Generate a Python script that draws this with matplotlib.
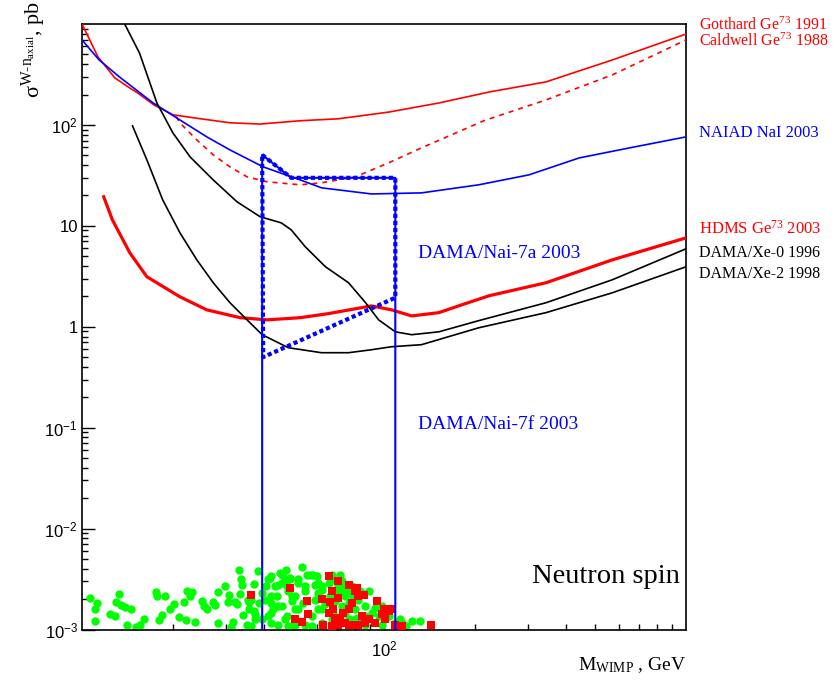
import matplotlib
matplotlib.use("Agg")
import matplotlib.pyplot as plt
from matplotlib.ticker import LogLocator, NullFormatter, FixedLocator

plt.rcParams['font.family'] = ['Liberation Serif', 'DejaVu Serif']
plt.rcParams['mathtext.fontset'] = 'custom'
plt.rcParams['mathtext.rm'] = 'Liberation Serif'
plt.rcParams['mathtext.it'] = 'Liberation Serif:italic'
plt.rcParams['mathtext.sf'] = 'Liberation Sans'

# ---------------- data (mass in GeV, cross-section in pb) ----------------
gotthard_mass = [10, 11.3, 12.85, 14.4, 15.3, 17.3, 20.0, 24.2, 30.9, 38.9, 52.8, 70.7, 103.6, 152, 223, 344, 570, 1000]
gotthard_xsec = [1000, 471, 292, 232, 207, 158, 126, 116, 105, 102, 110, 115, 134, 165, 212, 267, 440, 796]

caldwell_mass = [20.5, 21.1, 24.0, 27.2, 30.9, 35.2, 41.0, 52.8, 62.1, 80.5, 103.6, 133, 173, 214, 344, 570, 1000]
caldwell_xsec = [121, 104.7, 71.0, 50.5, 38.4, 30.6, 27.3, 25.5, 26.7, 30.6, 42.1, 59.2, 83.3, 110, 177, 313, 695]

naiad_mass = [10, 11.4, 13.3, 17.2, 21.1, 25.9, 30.9, 39.8, 52.8, 62.1, 90.9, 133, 206, 302, 443, 650, 1000]
naiad_xsec = [695, 440, 299, 165, 112, 76.1, 56.5, 38.4, 28.5, 23.8, 20.7, 21.2, 25.5, 32.0, 47.1, 59.2, 76.1]

hdms_mass = [11.8, 12.6, 14.4, 16.4, 21.1, 25.9, 33.4, 41.0, 52.8, 65.5, 90.9, 106, 123.5, 152, 181, 223, 344, 570, 1000]
hdms_xsec = [19.4, 11.5, 5.40, 3.13, 1.98, 1.47, 1.23, 1.17, 1.23, 1.35, 1.61, 1.47, 1.28, 1.38, 1.65, 2.03, 2.73, 4.60, 7.60]

xe0_mass = [13.3, 13.9, 15.5, 17.7, 20.0, 22.8, 27.2, 32.6, 38.9, 45.7, 49.3, 54.9, 64.0, 76.3, 86.9, 96.0, 109, 123.5, 152, 206, 344, 570, 1000]
xe0_xsec = [1400, 977, 516, 165, 83.3, 48.2, 28.5, 17.3, 12.3, 10.7, 9.12, 6.19, 3.93, 2.73, 1.73, 1.17, 0.891, 0.834, 0.891, 1.15, 1.73, 2.92, 5.92]

xe2_mass = [14.7, 16.4, 18.5, 21.1, 24.0, 27.2, 30.9, 35.2, 39.5, 48.2, 62.1, 76.3, 90.9, 106, 133, 206, 344, 570, 1000]
xe2_xsec = [97.8, 45.0, 18.1, 8.53, 4.60, 2.73, 1.73, 1.17, 0.834, 0.620, 0.553, 0.553, 0.592, 0.634, 0.664, 0.977, 1.38, 2.17, 3.93]

nai7a_mass = [39.5, 49.3, 109, 109, 39.8, 39.5]
nai7a_xsec = [50.5, 29.9, 29.9, 1.94, 0.50, 50.5]

nai7f_mass = [39.5, 39.5, 49.3, 109, 109]
nai7f_xsec = [1e-4, 50.5, 29.9, 29.9, 1e-4]

green_mass = [10.6, 11.2, 11.0, 11.0, 12.4, 12.9, 13.0, 13.3, 13.5, 13.9, 14.5, 14.1, 15.1, 15.6, 16.0,
              17.6, 17.7, 18.9, 18.4, 18.0, 19.5, 20.2, 21.0, 21.8, 22.1, 22.2, 23.1, 22.7, 23.6, 24.9,
              25.4, 25.9, 27.2, 27.5, 28.3, 28.2, 29.8, 30.6, 30.5, 31.7, 31.1, 32.1, 32.6, 33.0, 33.6,
              33.8, 33.4, 34.2, 35.2, 35.6, 35.6, 37.0, 36.3, 37.0, 37.4, 38.4, 38.7, 35.5, 39.3, 40.8,
              41.9, 42.4, 41.4, 43.0, 44.1, 44.6, 45.8, 46.9, 45.8, 47.6, 48.2, 49.5, 48.8, 50.7, 50.7,
              52.0, 53.4, 54.1, 54.8, 55.5, 56.9, 58.4, 59.1, 59.1, 60.6, 60.6, 62.2, 63.8, 65.5, 66.3,
              67.1, 68.0, 68.9, 70.6, 72.5, 73.4, 74.3, 76.3, 78.3, 80.3, 82.3, 84.4, 86.6, 88.9, 91.2,
              93.6, 96.0, 98.5, 101, 104, 109, 115, 118, 124, 132, 86.6, 82.3, 76.3, 67.1, 62.2,
              54.8, 50.7, 48.2, 44.6, 39.3, 37.4, 36.4, 45.2, 47.4, 59.8, 71.5, 72.5, 78.3, 83.4, 113,
              101, 41.4, 42.4, 43.5, 42.4, 40.3, 45.8, 47.6, 48.8, 49.5, 52.0, 54.8, 60.6, 62.2, 67.1,
              70.6, 74.3, 77.3, 79.3, 42.4, 44.6, 46.9, 52.0, 57.6, 62.2, 67.1, 74.3, 80.3, 86.6, 42.4,
              49.5, 57.6, 70.6, 86.6, 98.5]
green_xsec = [2.03e-3, 1.83e-3, 1.58e-3, 1.21e-3, 1.41e-3, 1.35e-3, 1.88e-3, 2.27e-3, 1.73e-3, 1.66e-3,
              1.59e-3, 1.12e-3, 1.05e-3, 1.12e-3, 1.28e-3, 2.34e-3, 2.17e-3, 2.14e-3, 1.38e-3, 1.23e-3,
              1.61e-3, 1.78e-3, 1.34e-3, 1.86e-3, 1.24e-3, 2.38e-3, 2.34e-3, 2.13e-3, 1.19e-3, 1.91e-3,
              1.70e-3, 1.60e-3, 1.86e-3, 1.74e-3, 2.34e-3, 1.15e-3, 2.68e-3, 2.22e-3, 1.86e-3, 1.18e-3,
              1.05e-3, 1.86e-3, 1.77e-3, 3.93e-3, 3.20e-3, 2.73e-3, 2.25e-3, 1.38e-3, 1.12e-3, 1.86e-3,
              1.58e-3, 2.83e-3, 1.95e-3, 1.52e-3, 1.26e-3, 3.78e-3, 1.84e-3, 1.98e-3, 2.31e-3, 2.68e-3,
              3.25e-3, 1.84e-3, 1.36e-3, 1.58e-3, 2.13e-3, 2.79e-3, 3.50e-3, 3.13e-3, 1.70e-3, 1.36e-3,
              2.39e-3, 1.91e-3, 3.25e-3, 2.14e-3, 1.58e-3, 2.90e-3, 4.17e-3, 1.84e-3, 2.39e-3, 3.50e-3,
              3.50e-3, 3.50e-3, 2.79e-3, 1.98e-3, 1.58e-3, 2.31e-3, 2.68e-3, 1.77e-3, 2.90e-3, 2.14e-3,
              3.50e-3, 1.46e-3, 1.91e-3, 2.39e-3, 1.70e-3, 2.68e-3, 2.14e-3, 1.84e-3, 2.22e-3, 1.58e-3,
              1.98e-3, 2.31e-3, 1.70e-3, 2.39e-3, 1.46e-3, 1.64e-3, 1.36e-3, 1.70e-3, 1.26e-3, 1.36e-3,
              1.16e-3, 1.16e-3, 1.08e-3, 1.21e-3, 1.21e-3, 1.26e-3, 1.31e-3, 1.26e-3, 1.16e-3, 1.16e-3,
              1.12e-3, 1.12e-3, 1.08e-3, 1.12e-3, 1.26e-3, 1.41e-3, 1.08e-3, 3.65e-3, 3.93e-3, 3.37e-3,
              3.50e-3, 3.01e-3, 2.68e-3, 2.39e-3, 1.26e-3, 1.58e-3, 3.13e-3, 3.37e-3, 2.68e-3, 2.14e-3,
              1.98e-3, 2.90e-3, 2.68e-3, 3.13e-3, 2.14e-3, 3.13e-3, 2.68e-3, 2.90e-3, 2.49e-3, 3.13e-3,
              2.68e-3, 2.31e-3, 2.49e-3, 1.98e-3, 1.46e-3, 1.70e-3, 1.26e-3, 1.58e-3, 1.36e-3, 1.58e-3,
              1.26e-3, 1.46e-3, 1.26e-3, 1.36e-3, 1.16e-3, 1.08e-3, 1.08e-3, 1.08e-3, 1.12e-3, 1.12e-3]

red_mass = [36.4, 48.8, 55.5, 55.9, 50.7, 53.4, 62.2, 65.5, 66.3, 67.1, 68.0, 70.6, 70.6, 71.5, 65.5,
            68.9, 73.4, 74.3, 76.3, 76.3, 78.3, 80.3, 81.3, 82.3, 84.4, 85.6, 86.6, 88.9, 93.6, 94.8,
            98.5, 99.7, 101, 104, 106, 109, 115, 143, 63.0, 76.3, 80.3, 70.6, 67.1, 82.3]
red_xsec = [2.22e-3, 2.59e-3, 1.91e-3, 1.41e-3, 1.26e-3, 1.18e-3, 2.01e-3, 3.42e-3, 1.86e-3, 2.39e-3,
            1.58e-3, 3.01e-3, 2.06e-3, 1.26e-3, 1.46e-3, 1.31e-3, 1.46e-3, 1.16e-3, 2.79e-3, 1.58e-3,
            1.84e-3, 2.39e-3, 2.59e-3, 2.14e-3, 1.36e-3, 2.22e-3, 1.16e-3, 1.26e-3, 1.16e-3, 1.91e-3,
            1.41e-3, 1.58e-3, 1.26e-3, 1.52e-3, 1.58e-3, 1.12e-3, 1.08e-3, 1.10e-3, 1.12e-3, 1.12e-3,
            1.12e-3, 1.12e-3, 1.08e-3, 1.12e-3]

ytick_vals = [1e-3, 1e-2, 1e-1, 1, 10, 100]
ytick_text = [r'$\mathsf{10^{-3}}$', r'$\mathsf{10^{-2}}$', r'$\mathsf{10^{-1}}$', '1', '10', r'$\mathsf{10^{2}}$']
xtick_vals = [100]
xtick_text = [r'$\mathsf{10^{2}}$']

# ---------------- figure ----------------
W, H = 835, 685
fig = plt.figure(figsize=(W / 100, H / 100), dpi=100)
ax = fig.add_axes([82 / W, (H - 629.5) / H, 604 / W, (629.5 - 24) / H])
ax.set_xscale('log')
ax.set_yscale('log')
ax.set_xlim(10, 1000)
ax.set_ylim(1e-3, 1e3)

RED, BLUE, GREEN = '#ff0000', '#0000ff', '#00ff00'

ax.scatter(green_mass, green_xsec, s=36, c=GREEN, marker='o', linewidths=0, zorder=2)
ax.scatter(red_mass, red_xsec, s=26, c=RED, marker='s', linewidths=0, zorder=3)

ax.plot(gotthard_mass, gotthard_xsec, color=RED, lw=1.2, zorder=4)
ax.plot(caldwell_mass, caldwell_xsec, color=RED, lw=1.2, ls=(0, (3, 3)), zorder=4)
ax.plot(naiad_mass, naiad_xsec, color=BLUE, lw=1.2, zorder=4)
ax.plot(hdms_mass, hdms_xsec, color=RED, lw=2.3, zorder=4)
ax.plot(xe0_mass, xe0_xsec, color='black', lw=1.2, zorder=4)
ax.plot(xe2_mass, xe2_xsec, color='black', lw=1.2, zorder=4)
ax.plot(nai7f_mass, nai7f_xsec, color=BLUE, lw=1.5, zorder=5)
ax.plot(nai7a_mass, nai7a_xsec, color=BLUE, lw=3.0, ls=(0, (1, 0.7)), zorder=6)

# ticks
ax.xaxis.set_major_locator(FixedLocator(xtick_vals))
ax.set_xticklabels(xtick_text)
ax.xaxis.set_minor_locator(LogLocator(base=10, subs=range(2, 10), numticks=20))
ax.xaxis.set_minor_formatter(NullFormatter())
ax.yaxis.set_major_locator(FixedLocator(ytick_vals))
ax.set_yticklabels(ytick_text, fontfamily='Liberation Sans')
ax.yaxis.set_minor_locator(LogLocator(base=10, subs=range(2, 10), numticks=20))
ax.yaxis.set_minor_formatter(NullFormatter())
ax.tick_params(which='both', direction='in', top=False, right=False, labelsize=12, colors='black')
ax.tick_params(which='major', length=9, width=1.0)
ax.tick_params(which='minor', length=4.5, width=1.0)
ax.tick_params(axis='x', pad=8)
ax.tick_params(axis='y', pad=3)
for sp in ax.spines.values():
    sp.set_linewidth(1.2)

# labels
fig.text(686 / W, 1 - 670 / H, r'M$_{\mathrm{WIMP}}$ , GeV', ha='right', va='baseline', fontsize=14)
fig.text(34 / W, 1 - 1 / H, r'σ$^{\mathrm{W\text{-}n_{axial}}}$, pb', rotation=90, ha='center', va='top', fontsize=16)

lx = 699 / W
fig.text(lx, 1 - 30 / H, r'Gotthard Ge$^{73}$ 1991', color=RED, fontsize=11.5, va='baseline')
fig.text(lx, 1 - 46 / H, r'Caldwell Ge$^{73}$ 1988', color=RED, fontsize=11.5, va='baseline')
fig.text(lx, 1 - 137 / H, 'NAIAD NaI 2003', color=BLUE, fontsize=12, va='baseline')
fig.text(lx, 1 - 234 / H, r'HDMS Ge$^{73}$ 2003', color=RED, fontsize=12, va='baseline')
fig.text(lx, 1 - 257 / H, 'DAMA/Xe-0 1996', color='black', fontsize=11.5, va='baseline')
fig.text(lx, 1 - 278 / H, 'DAMA/Xe-2 1998', color='black', fontsize=11.5, va='baseline')

fig.text(418 / W, 1 - 258 / H, 'DAMA/Nai-7a 2003', color=BLUE, fontsize=14, va='baseline')
fig.text(418 / W, 1 - 429 / H, 'DAMA/Nai-7f 2003', color=BLUE, fontsize=14, va='baseline')
fig.text(680 / W, 1 - 583 / H, 'Neutron spin', color='black', fontsize=20.5, ha='right', va='baseline')

fig.savefig('out.png', dpi=100)
